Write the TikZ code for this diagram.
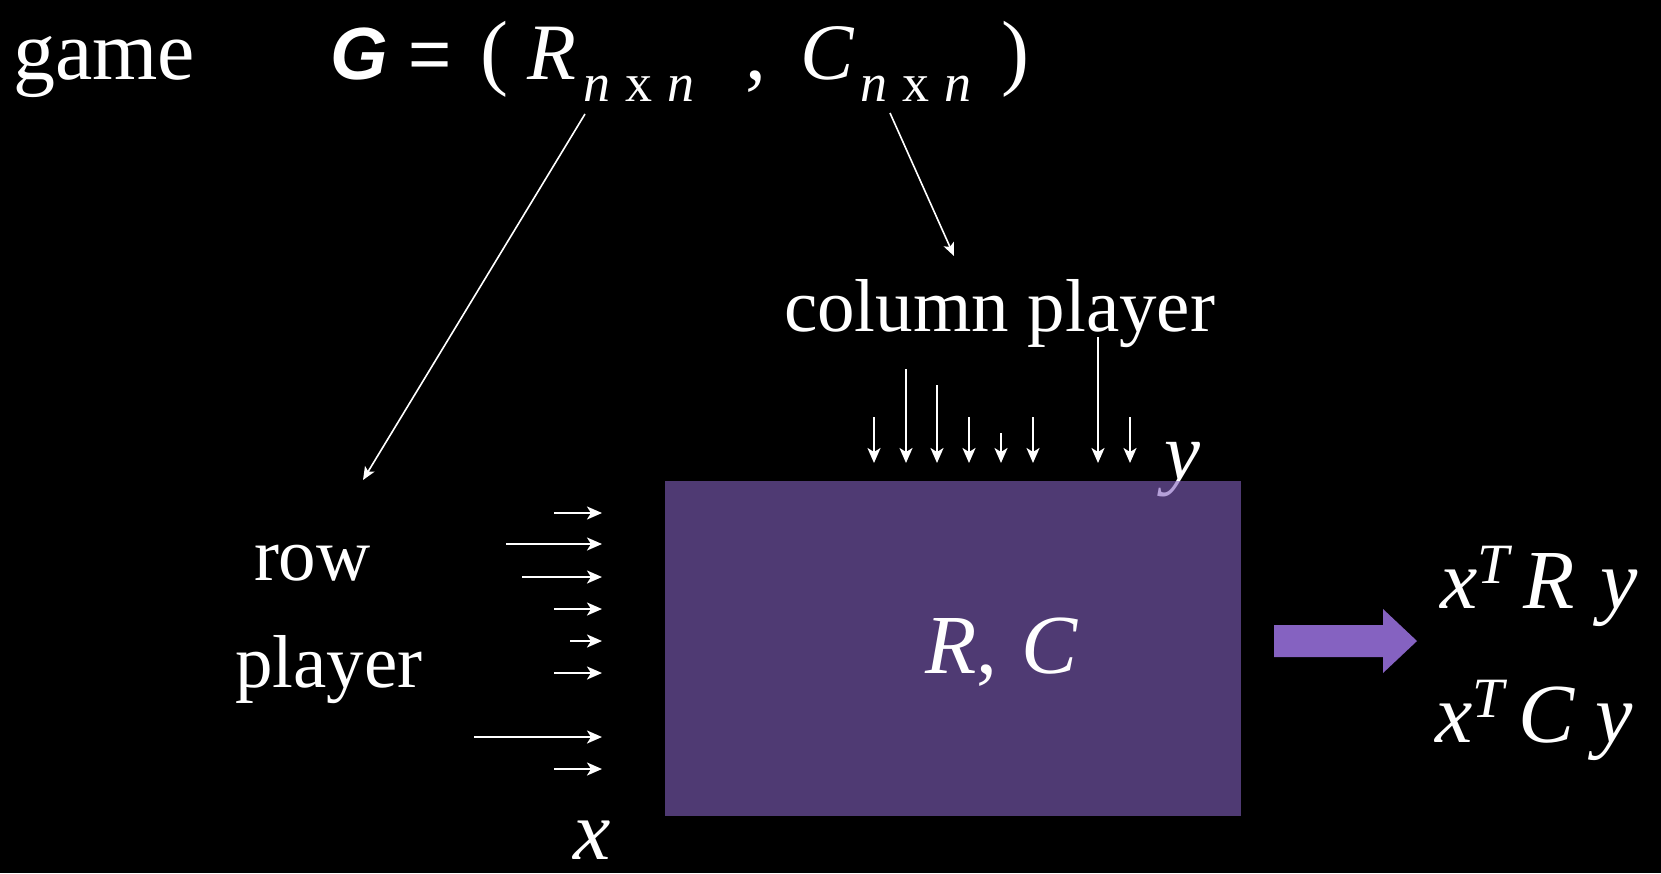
\documentclass[tikz,border=0pt]{standalone}
\usepackage{fontspec}
\setmainfont{Liberation Serif}
\newfontfamily\gsans{Liberation Sans}
\usetikzlibrary{arrows.meta}
\definecolor{arrowpurple}{RGB}{133,98,193}
\tikzset{
  txt/.style={anchor=base west, inner sep=0pt, outer sep=0pt, text=white},
  bigtxt/.style={txt, font=\fontsize{84}{90}\selectfont},
  midtxt/.style={txt, font=\fontsize{75}{80}\selectfont},
  subtxt/.style={txt, font=\fontsize{54}{60}\selectfont},
  pointer/.style={white, line width=1.6pt, -{Stealth[length=13pt,width=11pt,inset=3pt]}},
  flow/.style={white, line width=2pt, -{Stealth[length=15pt,width=13pt,inset=4pt]}},
}
\begin{document}
\begin{tikzpicture}[x=1pt,y=-1pt]
\useasboundingbox (0,0) rectangle (1661,873);
\fill[black] (0,0) rectangle (1661,873);
% top line
\node[bigtxt] (game) at (13,79) {game};
\node[txt, font=\gsans\bfseries\itshape\fontsize{74}{80}\selectfont] (G) at (330,79) {G};
\node[txt, font=\gsans\fontsize{74}{80}\selectfont] (eq) at (408,79) {=};
\node[bigtxt] (lp) at (480,79) {(};
\node[txt, font=\itshape\fontsize{80}{86}\selectfont] (R) at (527,79) {R};
\node[subtxt] (Rsub) at (583,101) {\itshape n\upshape\hspace{15pt}x\hspace{15pt}\itshape n};
\node[bigtxt] (comma) at (745,79) {,};
\node[txt, font=\itshape\fontsize{80}{86}\selectfont] (C) at (800,79) {C};
\node[subtxt] (Csub) at (860,101) {\itshape n\upshape\hspace{15pt}x\hspace{15pt}\itshape n};
\node[bigtxt] (rp) at (1001,79) {)};
% pointers
\coordinate (rfrom) at (585,114);
\coordinate (rto) at (363,480);
\coordinate (cfrom) at (890,113);
\coordinate (cto) at (954,256);
\draw[pointer] (rfrom) -- (rto);
\draw[pointer] (cfrom) -- (cto);
% labels
\node[midtxt] (colpl) at (784,331) {column player};
\node[midtxt] (row) at (254,580) {row};
\node[midtxt] (rowpl) at (235,687) {player};
% y label (under the translucent box)
\node[txt, font=\itshape\fontsize{81}{86}\selectfont] (ylab) at (1164,479) {y};
% box
\fill[arrowpurple, fill opacity=0.6] (665,481) rectangle (1241,816);
\node[txt, font=\fontsize{84}{90}\selectfont] (RC) at (925,673) {\itshape R\upshape,\hspace{24pt}\itshape C};
% down arrows
\foreach \i/\xx/\yt in {1/874/417, 2/906/369, 3/937/385, 4/969/417, 5/1001/433, 6/1033/417, 7/1098/337, 8/1130/417}{
  \coordinate (d\i s) at (\xx,\yt);
  \coordinate (d\i e) at (\xx,463);
  \draw[flow] (d\i s) -- (d\i e);
}
% right arrows
\foreach \i/\yy/\xs in {1/513/554, 2/544/506, 3/577/522, 4/609/554, 5/641/570, 6/673/554, 7/737/474, 8/769/554}{
  \coordinate (r\i s) at (\xs,\yy);
  \coordinate (r\i e) at (602,\yy);
  \draw[flow] (r\i s) -- (r\i e);
}
\node[txt, font=\itshape\fontsize{84}{90}\selectfont] (xlab) at (573,859) {x};
% output arrow
\fill[arrowpurple] (1274,625) -- (1383,625) -- (1383,609) -- (1417,641) -- (1383,673) -- (1383,657) -- (1274,657) -- cycle;
% outputs
\node[txt, font=\itshape\fontsize{84}{90}\selectfont] (xRy) at (1440,608) {x\raisebox{25pt}{\fontsize{57}{60}\selectfont T}\hspace{14pt}R\hspace{26pt}y};
\node[txt, font=\itshape\fontsize{84}{90}\selectfont] (xCy) at (1435,742) {x\raisebox{25pt}{\fontsize{57}{60}\selectfont T}\hspace{14pt}C\hspace{22pt}y};
\end{tikzpicture}
\end{document}
